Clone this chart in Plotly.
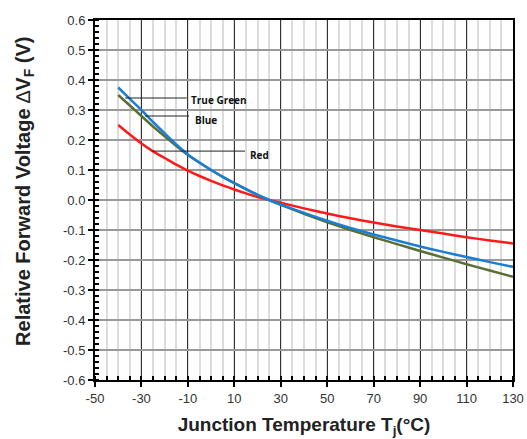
import plotly.graph_objects as go

temps = [-40, -35, -30, -25, -20, -15, -10, -5, 0, 5, 10, 15, 20, 25, 30, 40, 50, 60, 70, 80, 90, 100, 110, 120, 130]
blue = [0.375, 0.337, 0.300, 0.260, 0.222, 0.185, 0.152, 0.125, 0.100, 0.077, 0.056, 0.036, 0.017, 0.000, -0.015, -0.043, -0.069, -0.093, -0.115, -0.135, -0.155, -0.173, -0.190, -0.207, -0.223]
green = [0.350, 0.315, 0.280, 0.245, 0.212, 0.180, 0.150, 0.124, 0.100, 0.077, 0.056, 0.036, 0.017, 0.000, -0.016, -0.046, -0.074, -0.100, -0.124, -0.147, -0.170, -0.192, -0.214, -0.235, -0.256]
red = [0.250, 0.218, 0.188, 0.162, 0.140, 0.118, 0.098, 0.080, 0.064, 0.049, 0.035, 0.022, 0.010, 0.000, -0.009, -0.028, -0.045, -0.061, -0.075, -0.088, -0.100, -0.112, -0.124, -0.135, -0.145]

series_names = ["True Green", "Blue", "Red"]
series_colors = ["#5b6e35", "#1a7fd4", "#ff1a1a"]
# leader lines: (x_start, x_end, y) and label positions
leaders = [(-37, -10.5, 0.340), (-28.5, -9.5, 0.280), (-25.5, 14.6, 0.163)]
label_pos = [(-9.4, 0.334), (-8.0, 0.266), (16.0, 0.150)]

x_ticks = [-50, -30, -10, 10, 30, 50, 70, 90, 110, 130]
y_ticks = [-0.6, -0.5, -0.4, -0.3, -0.2, -0.1, 0.0, 0.1, 0.2, 0.3, 0.4, 0.5, 0.6]

fig = go.Figure()
for name, vals, col in [("Red", red, series_colors[2]), ("True Green", green, series_colors[0]), ("Blue", blue, series_colors[1])]:
    fig.add_trace(go.Scatter(x=temps, y=vals, mode="lines", name=name,
                             line=dict(color=col, width=2.5, shape="spline", smoothing=0.6)))

for (x0, x1, yl), (tx, ty), name in zip(leaders, label_pos, series_names):
    fig.add_shape(type="line", x0=x0, x1=x1, y0=yl, y1=yl, xref="x", yref="y",
                  line=dict(color="#222", width=1))
    fig.add_annotation(x=tx, y=ty, text="<b>%s</b>" % name, showarrow=False,
                       xanchor="left", yanchor="middle",
                       font=dict(family="Open Sans, Liberation Sans, Arial", size=10, color="#111"))

# y-axis title as a rotated annotation
fig.add_annotation(x=-0.17, y=0.525, xref="paper", yref="paper", showarrow=False,
                   textangle=-90, xanchor="center", yanchor="middle",
                   text="<b>Relative Forward Voltage </b>∆<b>V<sub>F</sub> (V)</b>",
                   font=dict(family="Liberation Sans, Arial", size=20, color="#222"))

fig.update_layout(
    width=527, height=439,
    margin=dict(l=95, r=14, t=20, b=59),
    paper_bgcolor="white", plot_bgcolor="white",
    showlegend=False,
    font=dict(family="Liberation Sans, Arial", color="#333"),
)
fig.update_xaxes(
    range=[-50, 130], tickvals=x_ticks, ticktext=[str(v) for v in x_ticks],
    showgrid=True, gridcolor="#333", gridwidth=1,
    showline=True, linecolor="black", linewidth=2, mirror=True,
    ticks="outside", ticklen=5, tickwidth=2, tickcolor="black",
    tickfont=dict(size=13, color="#333"),
    minor=dict(dtick=5, tick0=-50, showgrid=True, gridcolor="#dcdcdc", gridwidth=1.5,
               ticks="inside", ticklen=4, tickwidth=2, tickcolor="black"),
    zeroline=False, automargin=False,
    title=dict(text="<b>Junction Temperature T<sub>j</sub>(°C)</b>", font=dict(size=19, color="#222"), standoff=13),
)
fig.update_yaxes(
    range=[-0.6, 0.6], tickvals=y_ticks, ticktext=["%.1f" % v for v in y_ticks],
    showgrid=True, gridcolor="#999", gridwidth=1.5,
    showline=True, linecolor="black", linewidth=2, mirror=True,
    ticks="outside", ticklen=5, tickwidth=2, tickcolor="black",
    tickfont=dict(size=13, color="#333"),
    minor=dict(dtick=0.02, tick0=0, showgrid=False,
               ticks="inside", ticklen=4, tickwidth=1.5, tickcolor="black"),
    zeroline=False, automargin=False,
)

fig.write_html("out.html", config={"displayModeBar": False},
               post_script="document.body.style.margin='0';document.body.style.overflow='hidden';")
